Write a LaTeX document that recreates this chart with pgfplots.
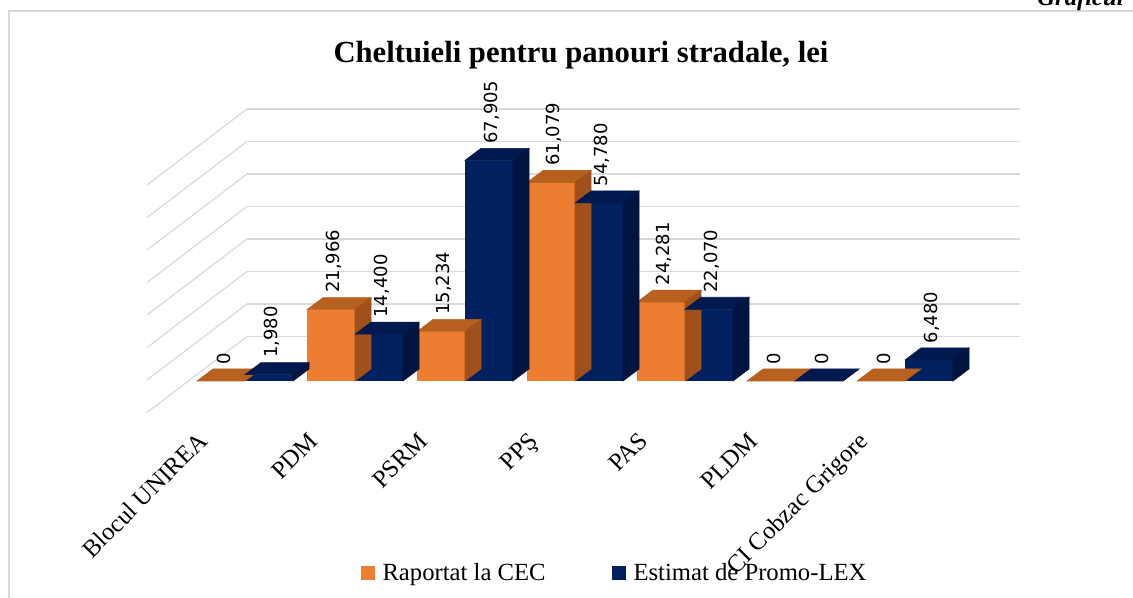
\documentclass[border=0pt]{standalone}
\usepackage{pgfplots}
\pgfplotsset{compat=1.18}
\usepackage{fontspec}
\setmainfont{Liberation Serif}
\newfontfamily\lblfont{DejaVu Sans}
\definecolor{orF}{HTML}{ED7D31}
\definecolor{orT}{HTML}{B8611F}
\definecolor{orS}{HTML}{A0501A}
\definecolor{nvF}{HTML}{002060}
\definecolor{nvT}{HTML}{001A50}
\definecolor{nvS}{HTML}{00143F}
\definecolor{gridc}{HTML}{D9D9D9}
\pgfdeclareplotmark{nothing}{}
\begin{document}
\begin{tikzpicture}
\useasboundingbox (0,0) rectangle (849.75pt,448.5pt);
\draw[gridc, line width=1.1pt] (6.75pt,-1pt) -- (6.75pt,440.25pt) -- (851pt,440.25pt);
\node[font=\bfseries\itshape\fontsize{18.5}{20}\selectfont, anchor=base east, inner sep=0pt] at (843pt,444pt) {Graficul};
\node[font=\bfseries\fontsize{23}{26}\selectfont, anchor=base, inner sep=0pt] at (435.75pt,401.5pt) {Cheltuieli pentru panouri stradale, lei};
\begin{axis}[
  at={(173.25pt,162.75pt)}, anchor=south west,
  scale only axis, width=579.75pt, height=195pt,
  xmin=-0.1273, xmax=6.9, ymin=0, ymax=80000,
  clip=false,
  axis line style={draw=none},
  xtick={0,1,2,3,4,5,6},
  xticklabels={Blocul UNIREA, PDM, PSRM, PPŞ, PAS, PLDM, CI Cobzac Grigore},
  xtick style={draw=none},
  ytick={10000,20000,30000,40000,50000,60000,70000,80000},
  yticklabels={},
  scaled y ticks=false,
  ytick style={draw=none},
  ymajorgrids,
  major grid style={draw=gridc, line width=0.9pt, xshift=12pt, yshift=9pt},
  xticklabel style={font=\fontsize{18.5}{22}\selectfont, xshift=-27pt, yshift=-46pt, rotate=45, anchor=base east, inner sep=0pt},
  /pgf/number format/assume math mode=true,
  /pgf/number format/fixed,
  /pgf/number format/1000 sep={,},
  legend style={at={(axis description cs:0.497,-0.738)}, anchor=center, draw=none, fill=none, legend columns=2, font=\fontsize{18.5}{22}\selectfont, /tikz/every even column/.append style={column sep=48pt}},
  legend cell align=left,
]
\pgfplotsinvokeforeach{10000,20000,30000,40000,50000,60000,70000,80000}{
  \draw[gridc, line width=0.9pt] ([shift={(12pt,9pt)}]axis cs:-0.1273,#1) -- ([shift={(-63pt,-48pt)}]axis cs:-0.1273,#1);
}
\addplot[ybar, bar width=36pt, bar shift=-18pt, fill=orF, draw=none, nodes near coords,
  nodes near coords style={font=\lblfont\fontsize{13.5}{15}\selectfont, shift={(-15.75pt,9pt)}, rotate=90, anchor=west},
  legend image code/.code={\fill[orF] (0pt,-5.25pt) rectangle (10.5pt,5.25pt); \path (14pt,0pt);}]
  coordinates {(0,0) (1,21966) (2,15234) (3,61079) (4,24281) (5,0) (6,0)};
\addlegendentry{Raportat la CEC}
\addplot[forget plot, only marks, mark=nothing, scatter, visualization depends on=rawy\as\rawy,
  scatter/@pre marker code/.code={%
    \edef\hh{\fpeval{\rawy*0.0024375}}%
    \fill[orT] (-36pt,0pt) -- (-24pt,9pt) -- (12pt,9pt) -- (0pt,0pt) -- cycle;
    \fill[orS] (0pt,0pt) -- (12pt,9pt) -- (12pt,{9pt-\hh pt}) -- (0pt,{-\hh pt}) -- cycle;
  },
  scatter/@post marker code/.code={}]
  coordinates {(0,0) (1,21966) (2,15234) (3,61079) (4,24281) (5,0) (6,0)};
\addplot[ybar, bar width=36pt, bar shift=18pt, fill=nvF, draw=none, nodes near coords,
  nodes near coords style={font=\lblfont\fontsize{13.5}{15}\selectfont, shift={(20.25pt,9pt)}, rotate=90, anchor=west},
  legend image code/.code={\fill[nvF] (0pt,-5.25pt) rectangle (10.5pt,5.25pt); \path (14pt,0pt);}]
  coordinates {(0,1980) (1,14400) (2,67905) (3,54780) (4,22070) (5,0) (6,6480)};
\addlegendentry{Estimat de Promo-LEX}
\addplot[forget plot, only marks, mark=nothing, scatter, visualization depends on=rawy\as\rawy,
  scatter/@pre marker code/.code={%
    \edef\hh{\fpeval{\rawy*0.0024375}}%
    \fill[nvT] (0pt,0pt) -- (12pt,9pt) -- (48pt,9pt) -- (36pt,0pt) -- cycle;
    \fill[nvS] (36pt,0pt) -- (48pt,9pt) -- (48pt,{9pt-\hh pt}) -- (36pt,{-\hh pt}) -- cycle;
  },
  scatter/@post marker code/.code={}]
  coordinates {(0,1980) (1,14400) (2,67905) (3,54780) (4,22070) (5,0) (6,6480)};
\end{axis}
\end{tikzpicture}
\end{document}
